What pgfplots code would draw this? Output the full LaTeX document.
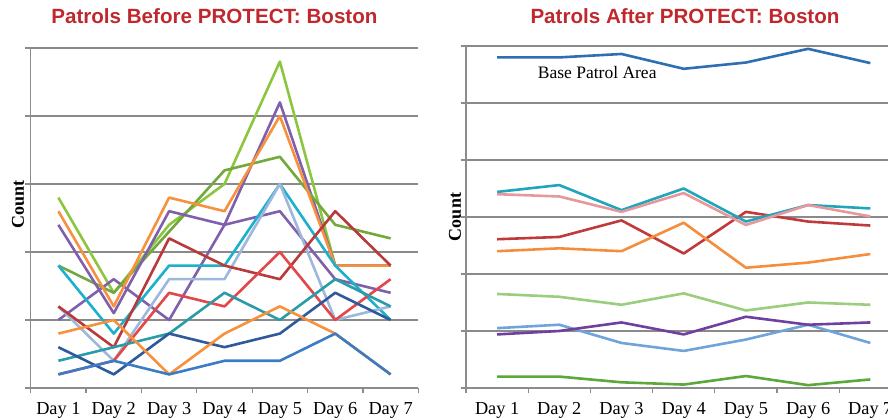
\documentclass[border=0pt]{standalone}
\usepackage{fontspec}
\setmainfont{Liberation Serif}
\newfontfamily\titlefont{Liberation Sans}
\usepackage{pgfplots}
\pgfplotsset{compat=1.18}
\definecolor{axisgray}{HTML}{8C8C8C}
\definecolor{gridgray}{HTML}{8A8A8A}
\definecolor{titlered}{HTML}{C0282D}
\definecolor{lblue}{HTML}{3C7CC4}
\definecolor{ldblue}{HTML}{2E5A9C}
\definecolor{ltealdk}{HTML}{2A9CA8}
\definecolor{lcyan}{HTML}{1DB0CC}
\definecolor{llight}{HTML}{9DB8DC}
\definecolor{lorange}{HTML}{F7913D}
\definecolor{lred}{HTML}{E2474A}
\definecolor{ldred}{HTML}{B83A3A}
\definecolor{lpurple}{HTML}{8060AC}
\definecolor{lgreen}{HTML}{8CC63F}
\definecolor{ldgreen}{HTML}{73A93C}
\definecolor{rbase}{HTML}{2E6FB3}
\definecolor{rcyan}{HTML}{1FA6BC}
\definecolor{rpink}{HTML}{E6989C}
\definecolor{rdred}{HTML}{C03A3C}
\definecolor{rorange}{HTML}{F58E3C}
\definecolor{rlgreen}{HTML}{9ACD7C}
\definecolor{rpurple}{HTML}{7040A0}
\definecolor{rlblue}{HTML}{6EA4DB}
\definecolor{rgreen}{HTML}{5CA83A}
\pgfplotsset{patrol/.style={
  scale only axis,
  xmin=0, xmax=7,
  xtick={0.5,1.5,2.5,3.5,4.5,5.5,6.5},
  xticklabels={Day 1,Day 2,Day 3,Day 4,Day 5,Day 6,Day 7},
  minor xtick={0,1,2,3,4,5,6,7},
  axis x line*=bottom, axis y line*=left,
  axis line style={draw=axisgray, line width=1.3pt, -},
  major tick length=0pt, minor tick length=5.5pt, tick align=outside,
  tick style={draw=axisgray, line width=1.2pt},
  ymajorgrids, grid style={draw=gridgray, line width=1.3pt},
  yticklabels={},
  xticklabel style={font=\fontsize{18.3}{18}\selectfont, anchor=base, yshift=-27pt},
  ylabel={Count},
  ylabel style={font=\bfseries\fontsize{18}{18}\selectfont, anchor=center},
  title style={font=\titlefont\bfseries\fontsize{20.6}{21}\selectfont, color=titlered, anchor=base},
  every axis plot/.append style={line width=2.6pt, line join=round, mark=none},
}}
\begin{document}
\begin{tikzpicture}
\useasboundingbox (0,0) rectangle (888pt,419pt);
\clip (0,0) rectangle (888pt,419pt);
% ---------------- Left panel ----------------
\begin{axis}[patrol,
  at={(30.7pt,31pt)}, anchor=south west,
  width=387.6pt, height=340pt,
  ymin=0, ymax=25, ytick={0,5,10,15,20,25}, minor ytick={0,5,10,15,20,25},
  ylabel style={at={(rel axis cs:0,0.54)}, yshift=12.7pt},
  title={Patrols Before PROTECT: Boston},
  title style={at={(0.474,1)}, yshift=18pt},
]
\addplot[lgreen]  coordinates {(0.5,14) (1.5,7) (2.5,12) (3.5,15) (4.5,24) (5.5,9) (6.5,9)};
\addplot[lpurple] coordinates {(0.5,5) (1.5,8) (2.5,5) (3.5,12) (4.5,21) (5.5,9) (6.5,9)};
\addplot[ldgreen] coordinates {(0.5,9) (1.5,7) (2.5,11.5) (3.5,16) (4.5,17) (5.5,12) (6.5,11)};
\addplot[lpurple] coordinates {(0.5,12) (1.5,5.5) (2.5,13) (3.5,12) (4.5,13) (5.5,8) (6.5,7)};
\addplot[lorange] coordinates {(0.5,13) (1.5,6) (2.5,14) (3.5,13) (4.5,20) (5.5,9) (6.5,9)};
\addplot[lcyan]   coordinates {(0.5,9) (1.5,4) (2.5,9) (3.5,9) (4.5,15) (5.5,9) (6.5,5)};
\addplot[llight]  coordinates {(0.5,6) (1.5,2) (2.5,8) (3.5,8) (4.5,15) (5.5,5) (6.5,6)};
\addplot[ldred]   coordinates {(0.5,6) (1.5,3) (2.5,11) (3.5,9) (4.5,8) (5.5,13) (6.5,9)};
\addplot[lred]    coordinates {(0.5,1) (1.5,2) (2.5,7) (3.5,6) (4.5,10) (5.5,5) (6.5,8)};
\addplot[ltealdk] coordinates {(0.5,2) (1.5,3) (2.5,4) (3.5,7) (4.5,5) (5.5,8) (6.5,6)};
\addplot[ldblue]  coordinates {(0.5,3) (1.5,1) (2.5,4) (3.5,3) (4.5,4) (5.5,7) (6.5,5)};
\addplot[lorange] coordinates {(0.5,4) (1.5,5) (2.5,1) (3.5,4) (4.5,6) (5.5,4) (6.5,1)};
\addplot[lblue]   coordinates {(0.5,1) (1.5,2) (2.5,1) (3.5,2) (4.5,2) (5.5,4) (6.5,1)};
\end{axis}
% ---------------- Right panel ----------------
\begin{axis}[patrol,
  at={(466pt,31pt)}, anchor=south west,
  width=435.4pt, height=342pt,
  ymin=0, ymax=6, ytick={0,1,2,3,4,5,6}, minor ytick={0,1,2,3,4,5,6},
  ylabel style={at={(rel axis cs:0,0.5)}, yshift=11pt},
  title={Patrols After PROTECT: Boston},
  title style={at={(0.503,1)}, yshift=16pt},
]
\addplot[rbase]   coordinates {(0.5,5.80) (1.5,5.80) (2.5,5.86) (3.5,5.60) (4.5,5.71) (5.5,5.95) (6.5,5.70)};
\addplot[rdred]   coordinates {(0.5,2.61) (1.5,2.65) (2.5,2.94) (3.5,2.36) (4.5,3.09) (5.5,2.92) (6.5,2.85)};
\addplot[rorange] coordinates {(0.5,2.40) (1.5,2.45) (2.5,2.40) (3.5,2.90) (4.5,2.11) (5.5,2.20) (6.5,2.35)};
\addplot[rcyan]   coordinates {(0.5,3.44) (1.5,3.56) (2.5,3.12) (3.5,3.50) (4.5,2.92) (5.5,3.21) (6.5,3.15)};
\addplot[rpink]   coordinates {(0.5,3.40) (1.5,3.36) (2.5,3.09) (3.5,3.42) (4.5,2.86) (5.5,3.21) (6.5,3.01)};
\addplot[rlgreen] coordinates {(0.5,1.65) (1.5,1.60) (2.5,1.46) (3.5,1.66) (4.5,1.36) (5.5,1.50) (6.5,1.46)};
\addplot[rlblue]  coordinates {(0.5,1.05) (1.5,1.11) (2.5,0.79) (3.5,0.65) (4.5,0.85) (5.5,1.11) (6.5,0.79)};
\addplot[rpurple] coordinates {(0.5,0.94) (1.5,1.00) (2.5,1.15) (3.5,0.94) (4.5,1.25) (5.5,1.11) (6.5,1.15)};
\addplot[rgreen]  coordinates {(0.5,0.20) (1.5,0.20) (2.5,0.10) (3.5,0.06) (4.5,0.21) (5.5,0.05) (6.5,0.15)};
\node[font=\fontsize{17.5}{17}\selectfont, anchor=center] at (axis cs:2.11,5.53) {Base Patrol Area};
\end{axis}
\end{tikzpicture}
\end{document}
